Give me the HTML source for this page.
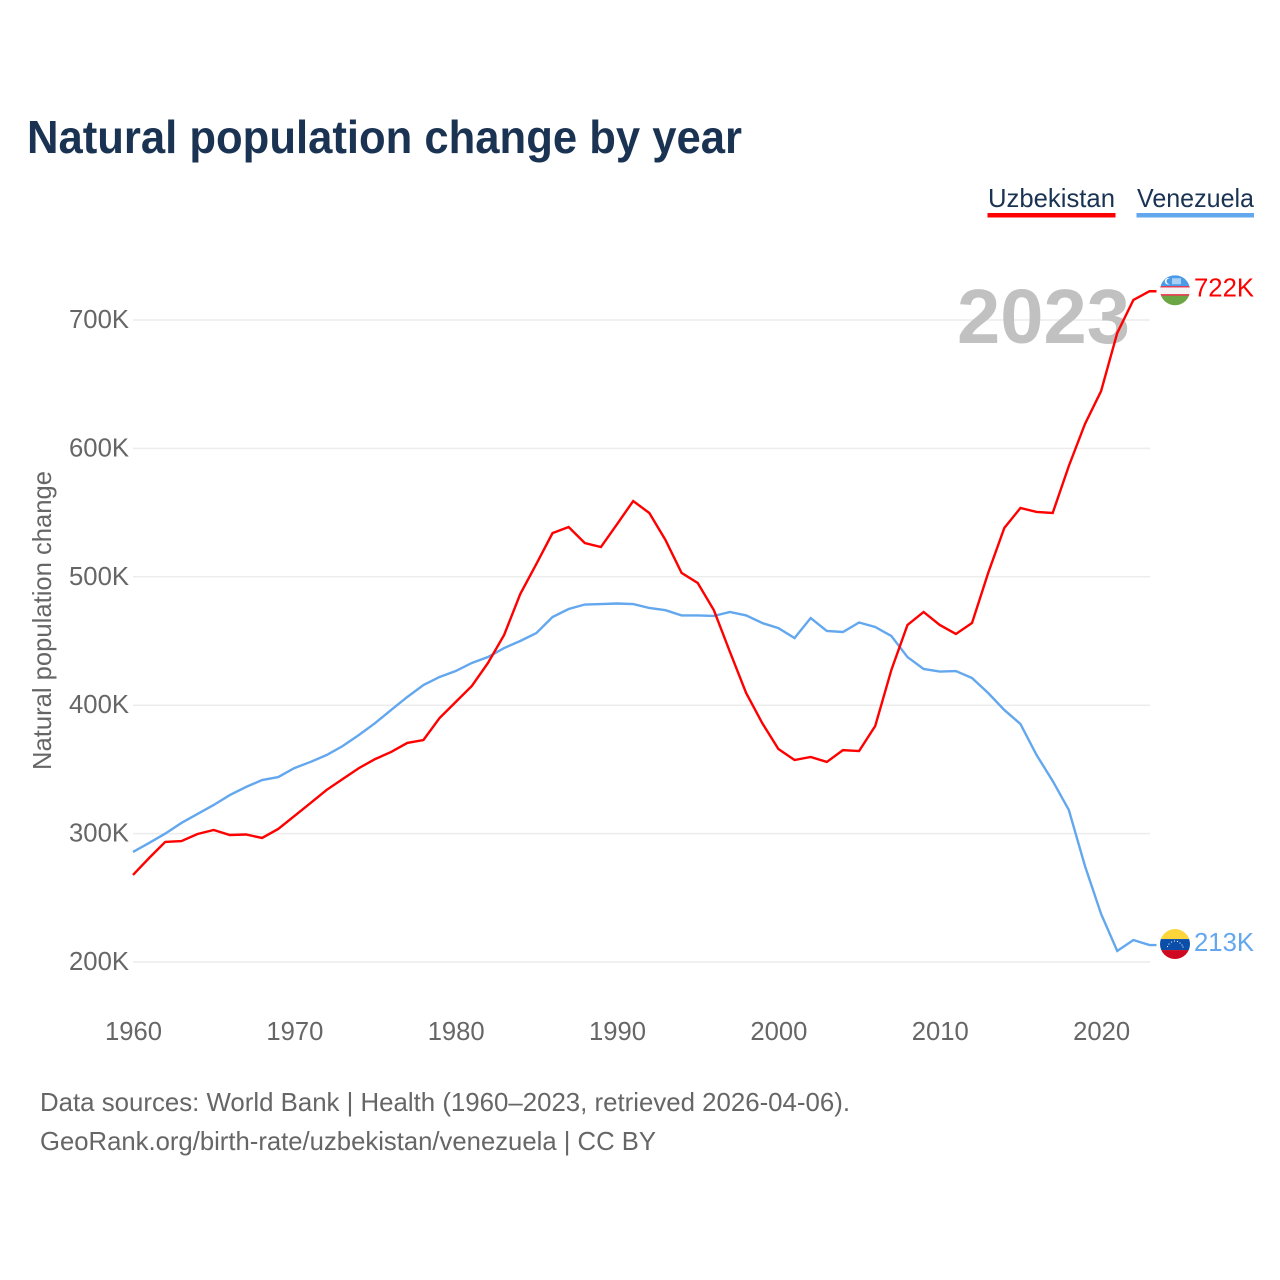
<!DOCTYPE html>
<html lang="en">
<head>
<meta charset="utf-8">
<title>Natural population change by year</title>
<style>
html,body{margin:0;padding:0;background:#fff;}
svg{display:block;}
text{font-family:"Liberation Sans",sans-serif;}
</style>
</head>
<body>
<svg id="chart" width="1280" height="1280" viewBox="0 0 1280 1280" xmlns="http://www.w3.org/2000/svg">
  <defs>
    <clipPath id="flag-clip"><circle cx="0" cy="0" r="15"/></clipPath>
  </defs>
  <rect x="0" y="0" width="1280" height="1280" fill="#ffffff"/>
  <text x="27" y="153" font-size="46" font-weight="700" fill="#1a3353" textLength="715" lengthAdjust="spacingAndGlyphs">Natural population change by year</text>

  <g>
    <g>
      <text x="988" y="207" font-size="26" fill="#1a3353" textLength="127" lengthAdjust="spacingAndGlyphs">Uzbekistan</text>
      <rect x="987.5" y="213" width="128" height="4.5" fill="#ff0000"/>
    </g>
    <g>
      <text x="1137" y="207" font-size="26" fill="#1a3353" textLength="117" lengthAdjust="spacingAndGlyphs">Venezuela</text>
      <rect x="1136.5" y="213" width="117.5" height="4.5" fill="#63a7ee"/>
    </g>
  </g>

  <g id="grid"></g>
  <g id="y-ticks"></g>
  <g id="x-ticks"></g>

  <text transform="translate(51,770) rotate(-90)" x="0" y="0" font-size="26" fill="#666666" textLength="299" lengthAdjust="spacingAndGlyphs">Natural population change</text>

  <text x="957" y="343" font-size="77" font-weight="700" fill="#c1c1c1" textLength="173" lengthAdjust="spacingAndGlyphs">2023</text>

  <g id="series"></g>

  <g id="flag-uzbekistan">
    <g clip-path="url(#flag-clip)">
      <rect x="-15" y="-15" width="30" height="11" fill="#4a9be8"/>
      <rect x="-15" y="-4" width="30" height="1.2" fill="#e8112d"/>
      <rect x="-15" y="-2.8" width="30" height="6.8" fill="#f4f4f4"/>
      <rect x="-15" y="4" width="30" height="1.4" fill="#e8112d"/>
      <rect x="-15" y="5.4" width="30" height="10" fill="#6ca544"/>
      <circle cx="-7" cy="-9" r="3.2" fill="#ffffff"/>
      <circle cx="-5.6" cy="-9" r="2.9" fill="#4a9be8"/>
      <rect x="-3" y="-12" width="9" height="6" fill="#a9cff5"/>
    </g>
  </g>
  <g id="flag-venezuela">
    <g clip-path="url(#flag-clip)">
      <rect x="-15" y="-15" width="30" height="10" fill="#fcd53a"/>
      <rect x="-15" y="-5" width="30" height="11" fill="#0b4ea9"/>
      <rect x="-15" y="6" width="30" height="9" fill="#cf0921"/>
      <g fill="#ffffff">
        <circle cx="-7.5" cy="2.5" r="0.6"/><circle cx="-6" cy="0" r="0.6"/><circle cx="-3.5" cy="-2" r="0.6"/>
        <circle cx="-0.5" cy="-3" r="0.6"/><circle cx="2.5" cy="-2.6" r="0.6"/><circle cx="5" cy="-1" r="0.6"/>
        <circle cx="7" cy="1" r="0.6"/><circle cx="8" cy="3" r="0.6"/>
      </g>
    </g>
  </g>

  <text id="end-label-uzbekistan" x="1194" font-size="26" fill="#ff0000" textLength="60" lengthAdjust="spacingAndGlyphs"></text>
  <text id="end-label-venezuela" x="1194" font-size="26" fill="#63a7ee" textLength="60" lengthAdjust="spacingAndGlyphs"></text>

  <text x="40" y="1111" font-size="26" fill="#666666" textLength="810" lengthAdjust="spacingAndGlyphs">Data sources: World Bank | Health (1960–2023, retrieved 2026-04-06).</text>
  <text x="40" y="1150" font-size="26" fill="#666666" textLength="616" lengthAdjust="spacingAndGlyphs">GeoRank.org/birth-rate/uzbekistan/venezuela | CC BY</text>
</svg>
<script>
const years = [1960,1961,1962,1963,1964,1965,1966,1967,1968,1969,1970,1971,1972,1973,1974,1975,1976,1977,1978,1979,1980,1981,1982,1983,1984,1985,1986,1987,1988,1989,1990,1991,1992,1993,1994,1995,1996,1997,1998,1999,2000,2001,2002,2003,2004,2005,2006,2007,2008,2009,2010,2011,2012,2013,2014,2015,2016,2017,2018,2019,2020,2021,2022,2023];
const uzbekistanValues = [267.8,281,293.5,294.2,299.7,302.8,298.9,299.3,296.6,303.6,313.7,323.8,334,342.5,351,358,363.6,370.6,372.9,390,402.5,415,432.9,454.7,486.6,510,534,538.8,526.3,523.2,541,559,549.7,528.7,503,495.2,474,441.4,409.5,386,365.9,357.3,359.7,355.8,365,364.3,383.8,427.4,462.5,472.6,462.5,455.5,464,503,538,553.6,550.5,549.7,586.3,619,644.7,689.9,715.6,722.4];
const venezuelaValues = [285.7,292.7,300,308.3,315.3,322.3,330,336.3,341.7,344,351,355.8,361.2,368.2,376.8,386,396.3,406.4,415.7,422,426.6,432.9,437.5,444.5,450,456.2,468.7,474.9,478.4,478.8,479.2,478.8,475.7,474,469.9,469.9,469.5,472.6,469.9,464,460,452.3,467.9,457.8,457,464.4,460.9,453.9,437.5,428.2,426.2,426.6,421.2,409.5,396.3,385.4,361.2,341,318.4,274.8,237.4,208.6,217.1,213.2];
const yTickValues = [200,300,400,500,600,700];
const xTickValues = [1960,1970,1980,1990,2000,2010,2020];

const SVG_NS = 'http://www.w3.org/2000/svg';
function xScale(year){ return 133 + (year - 1960) * 16.135; }
function yScale(value){ return 962 - (value - 200) * 1.284; }

const grid = document.getElementById('grid');
const yTicks = document.getElementById('y-ticks');
yTickValues.forEach(function(v){
  const line = document.createElementNS(SVG_NS, 'line');
  
  
  line.setAttribute('x1', 133);
  line.setAttribute('x2', 1150);
  line.setAttribute('y1', yScale(v));
  line.setAttribute('y2', yScale(v));
  line.setAttribute('stroke', '#ececec');
  line.setAttribute('stroke-width', '1.5');
  grid.appendChild(line);

  const label = document.createElementNS(SVG_NS, 'text');
  
  
  label.setAttribute('x', 69);
  label.setAttribute('y', yScale(v) + 8);
  label.setAttribute('font-size', '26');
  label.setAttribute('fill', '#666666');
  label.setAttribute('textLength', '60');
  label.setAttribute('lengthAdjust', 'spacingAndGlyphs');
  label.textContent = v + 'K';
  yTicks.appendChild(label);
});

const xTicks = document.getElementById('x-ticks');
xTickValues.forEach(function(y){
  const label = document.createElementNS(SVG_NS, 'text');
  
  
  label.setAttribute('x', xScale(y) - 28);
  label.setAttribute('y', 1040);
  label.setAttribute('font-size', '26');
  label.setAttribute('fill', '#666666');
  label.setAttribute('textLength', '57');
  label.setAttribute('lengthAdjust', 'spacingAndGlyphs');
  label.textContent = y;
  xTicks.appendChild(label);
});

function buildPoints(values){
  const pts = values.map(function(v, i){
    return xScale(years[i]).toFixed(2) + ',' + yScale(v).toFixed(2);
  });
  const last = values[values.length - 1];
  pts.push((xScale(years[years.length - 1]) + 7).toFixed(2) + ',' + yScale(last).toFixed(2));
  return pts.join(' ');
}

const seriesGroup = document.getElementById('series');

const venezuelaLine = document.createElementNS(SVG_NS, 'polyline');


venezuelaLine.setAttribute('points', buildPoints(venezuelaValues));
venezuelaLine.setAttribute('fill', 'none');
venezuelaLine.setAttribute('stroke', '#63a7ee');
venezuelaLine.setAttribute('stroke-width', '2.4');
seriesGroup.appendChild(venezuelaLine);

const uzbekistanLine = document.createElementNS(SVG_NS, 'polyline');


uzbekistanLine.setAttribute('points', buildPoints(uzbekistanValues));
uzbekistanLine.setAttribute('fill', 'none');
uzbekistanLine.setAttribute('stroke', '#ff0000');
uzbekistanLine.setAttribute('stroke-width', '2.4');
seriesGroup.appendChild(uzbekistanLine);

const uzLast = uzbekistanValues[uzbekistanValues.length - 1];
const veLast = venezuelaValues[venezuelaValues.length - 1];
document.getElementById('flag-uzbekistan').setAttribute('transform', 'translate(1175,' + (yScale(uzLast) - 1) + ')');
document.getElementById('flag-venezuela').setAttribute('transform', 'translate(1175,' + (yScale(veLast) - 1) + ')');
const uzLabel = document.getElementById('end-label-uzbekistan');
uzLabel.setAttribute('y', yScale(uzLast) + 5.5);
uzLabel.textContent = Math.round(uzLast) + 'K';
const veLabel = document.getElementById('end-label-venezuela');
veLabel.setAttribute('y', yScale(veLast) + 6);
veLabel.textContent = Math.round(veLast) + 'K';
</script>
</body>
</html>
